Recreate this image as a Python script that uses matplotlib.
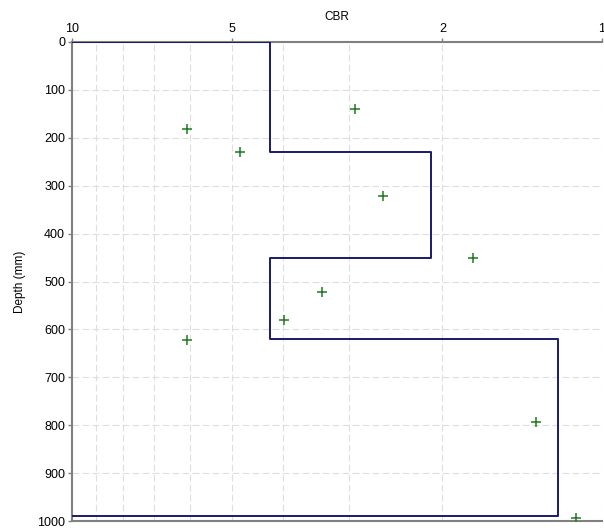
import matplotlib
matplotlib.use("Agg")
import matplotlib.pyplot as plt
from matplotlib.ticker import FixedLocator, NullFormatter

plt.rcParams['font.family'] = ['Liberation Sans', 'DejaVu Sans']

# design CBR profile (step line)
profile_cbr = [10, 4.23, 4.23, 2.1, 2.1, 4.23, 4.23, 1.21, 1.21, 10]
profile_depth = [0, 0, 230, 230, 450, 450, 620, 620, 990, 990]

# measured points
point_cbr = [2.93, 6.07, 4.83, 2.59, 1.755, 3.37, 3.98, 6.07, 1.33, 1.118]
point_depth = [140, 182, 230, 322, 451, 521, 580, 622, 794, 993]

x_major = [10, 5, 2, 1]
x_minor = [9, 8, 7, 6, 4, 3]

fig = plt.figure(figsize=(6.04, 5.28), dpi=100)
ax = fig.add_axes([72 / 604, 1 - 521 / 528, 530 / 604, 479 / 528])

ax.set_xscale('log')
ax.set_xlim(10, 1)
ax.set_ylim(1000, 0)

ax.plot(profile_cbr, profile_depth, color='#1a1a6e', lw=1.4, zorder=3)
ax.plot(point_cbr, point_depth, ls='none', marker='+', ms=6.5, mew=1.1,
        color='#1f7a1f', zorder=4)

ax.xaxis.set_major_locator(FixedLocator(x_major))
ax.xaxis.set_minor_locator(FixedLocator(x_minor))
ax.xaxis.set_major_formatter(plt.FuncFormatter(lambda v, p: f"{v:g}"))
ax.xaxis.set_minor_formatter(NullFormatter())
ax.xaxis.tick_top()
ax.xaxis.set_label_position('top')
ax.set_yticks(range(0, 1001, 100))

ax.grid(True, which='both', axis='x', color='#dedede', ls=(0, (6, 3)), lw=0.8)
ax.grid(True, which='major', axis='y', color='#dedede', ls=(0, (6, 3)), lw=0.8)
ax.set_axisbelow(True)

for side in ['left', 'top', 'bottom']:
    ax.spines[side].set_color('#808080')
    ax.spines[side].set_linewidth(1.5)
ax.spines['right'].set_visible(False)

ax.tick_params(axis='both', which='major', labelsize=9, colors='#808080',
               labelcolor='black', length=3, width=1, pad=2)
ax.tick_params(axis='x', which='minor', length=0)

ax.set_xlabel('CBR', fontsize=8.5, labelpad=2)
ax.set_ylabel('Depth (mm)', fontsize=8.5, labelpad=8)

fig.savefig('out.png', dpi=100)
